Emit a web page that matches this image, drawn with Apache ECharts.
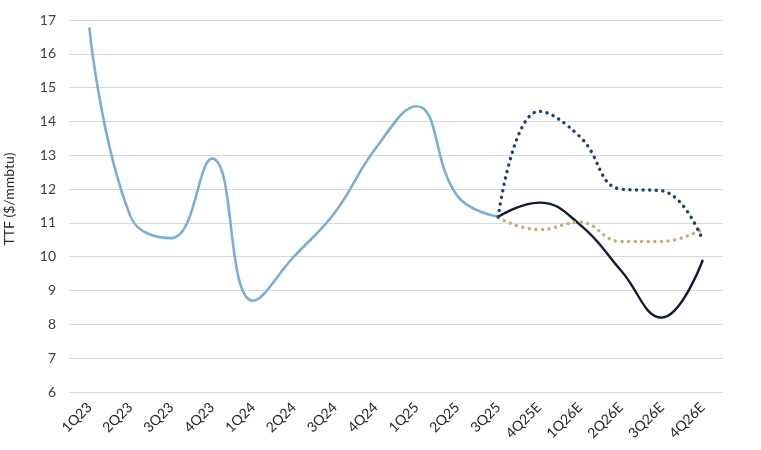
<!DOCTYPE html>
<html><head><meta charset="utf-8">
<script src="https://cdn.jsdelivr.net/npm/echarts@6/dist/echarts.min.js"></script>
<style>html,body{margin:0;padding:0;background:#fff}#c{width:761px;height:450px}</style>
</head><body><div id="c"></div>
<script>
const categories = ['1Q23','2Q23','3Q23','4Q23','1Q24','2Q24','3Q24','4Q24','1Q25','2Q25','3Q25','4Q25E','1Q26E','2Q26E','3Q26E','4Q26E'];
const historical = [16.75, 11.2, 10.55, 12.9, 8.7, 10.0, 11.3, 13.2, 14.45, 11.8, 11.18, null, null, null, null, null];
const baseCase = [null, null, null, null, null, null, null, null, null, null, 11.18, 11.6, 10.95, 9.6, 8.2, 9.88];
const highCase = [null, null, null, null, null, null, null, null, null, null, 11.18, 14.3, 13.55, 12.0, 11.95, 10.5];
const forward = [null, null, null, null, null, null, null, null, null, null, 11.15, 10.8, 11.02, 10.45, 10.45, 10.82];
const yTicks = {min: 6, max: 17, interval: 1};

const chart = echarts.init(document.getElementById('c'));
const font = 'Lato, "Open Sans", sans-serif';
function line(data, color, dotted, width) {
  return {
    type: 'line', data: data, smooth: 0.45, showSymbol: false, symbol: 'none',
    connectNulls: false,
    lineStyle: {color: color, width: width, type: dotted ? [0.1, 6.5] : 'solid', cap: 'round', join: 'round'},
    z: dotted ? 3 : 2
  };
}
chart.setOption({
  animation: false,
  backgroundColor: '#ffffff',
  grid: {left: 69, right: 38, top: 20, bottom: 58, outerBoundsMode: 'none', containLabel: false},
  xAxis: {
    type: 'category', data: categories, boundaryGap: true,
    axisLine: {show: false}, axisTick: {show: false},
    axisLabel: {rotate: 45, color: '#262626', fontFamily: font, fontSize: 14, margin: 13}
  },
  yAxis: {
    type: 'value', min: yTicks.min, max: yTicks.max, interval: yTicks.interval,
    name: 'TTF ($/mmbtu)', nameLocation: 'middle', nameGap: 53,
    nameTextStyle: {color: '#262626', fontFamily: font, fontSize: 14, padding: [0, 0, 0, 14]},
    axisLine: {show: false}, axisTick: {show: false},
    axisLabel: {color: '#404040', fontFamily: font, fontSize: 14, margin: 13},
    splitLine: {lineStyle: {color: '#d9d9d9', width: 1}}
  },
  series: [
    line(historical, '#7aafd2', false, 2.6),
    line(forward, '#c9a97c', true, 3.4),
    line(highCase, '#1f3f6e', true, 3.4),
    line(baseCase, '#0e1a36', false, 2.4)
  ]
});
</script></body></html>
